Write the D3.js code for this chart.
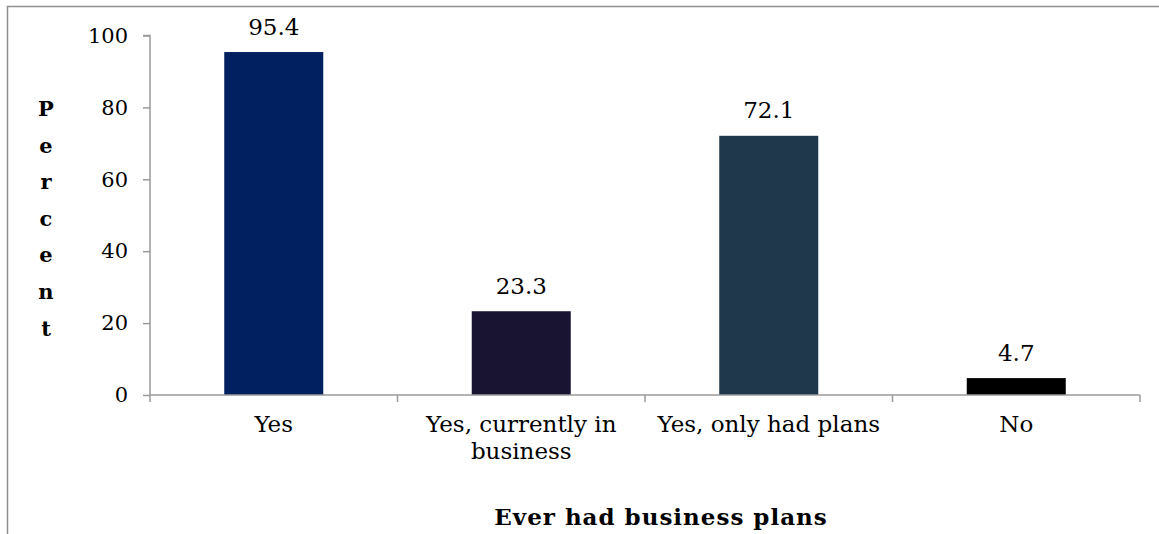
<!DOCTYPE html>
<html>
<head>
<meta charset="utf-8">
<script src="https://cdn.jsdelivr.net/npm/d3@7"></script>
<style>
  html, body { margin: 0; padding: 0; background: #fff; }
  svg { display: block; }
  text { font-family: "DejaVu Serif", "Liberation Serif", serif; fill: #000; }
</style>
</head>
<body>
<svg id="chart" width="1159" height="534"></svg>
<script>
// Ever had business plans — share of respondents (%)
const categories = ["Yes", "Yes, currently in business", "Yes, only had plans", "No"];
const categoryLines = [["Yes"], ["Yes, currently in", "business"], ["Yes, only had plans"], ["No"]];
const values = [95.4, 23.3, 72.1, 4.7];
const barColors = ["#002060", "#1a1433", "#1f384c", "#000000"];
const yTicks = [0, 20, 40, 60, 80, 100];
const yLabel = "Percent";
const xTitle = "Ever had business plans";

const svg = d3.select("#chart");
const W = 1159, H = 534;
const plot = { left: 150, right: 1140, top: 35.5, bottom: 395 };
const axisColor = "#9a9a9a";

// chart-area frame (left and top edges visible)
svg.append("path")
  .attr("d", `M7.5,${H} V6.5 H${W}`)
  .attr("fill", "none")
  .attr("stroke", "#8f8f8f")
  .attr("stroke-width", 1.5);

const x = d3.scaleBand()
  .domain(categories)
  .range([plot.left, plot.right])
  .paddingInner(0.6)
  .paddingOuter(0.3);

const y = d3.scaleLinear()
  .domain([0, 100])
  .range([plot.bottom, plot.top]);

// bars
svg.append("g").selectAll("rect")
  .data(categories)
  .join("rect")
  .attr("x", d => x(d))
  .attr("width", x.bandwidth())
  .attr("y", (d, i) => y(values[i]))
  .attr("height", (d, i) => y(0) - y(values[i]))
  .attr("fill", (d, i) => barColors[i]);

// y axis
const yAxis = svg.append("g")
  .attr("transform", `translate(${plot.left},0)`)
  .call(d3.axisLeft(y).tickValues(yTicks).tickSize(7).tickPadding(15).tickFormat(d3.format("d")));
yAxis.select(".domain").attr("stroke", axisColor).attr("stroke-width", 1.5)
  .attr("d", `M-7,${plot.top}H0V${plot.bottom}`);
yAxis.selectAll(".tick line").attr("stroke", axisColor).attr("stroke-width", 1.5);
yAxis.selectAll(".tick text").attr("font-size", 21).attr("font-family", "DejaVu Serif");

// x axis: baseline with tick marks at category boundaries
const step = x.step();
const boundaries = d3.range(categories.length + 1).map(i => plot.left + i * step);
const xAxis = svg.append("g");
xAxis.append("line")
  .attr("x1", plot.left).attr("x2", plot.right)
  .attr("y1", y(0)).attr("y2", y(0))
  .attr("stroke", axisColor).attr("stroke-width", 1.5);
xAxis.selectAll(".bt")
  .data(boundaries)
  .join("line")
  .attr("class", "bt")
  .attr("x1", d => d).attr("x2", d => d)
  .attr("y1", y(0)).attr("y2", y(0) + 7)
  .attr("stroke", axisColor).attr("stroke-width", 1.5);

// category labels
const catG = svg.append("g");
categories.forEach((c, i) => {
  const t = catG.append("text")
    .attr("x", x(c) + x.bandwidth() / 2)
    .attr("y", y(0) + 37)
    .attr("text-anchor", "middle")
    .attr("font-size", 23);
  categoryLines[i].forEach((ln, j) => {
    t.append("tspan")
      .attr("x", x(c) + x.bandwidth() / 2)
      .attr("dy", j === 0 ? 0 : 27)
      .text(ln);
  });
});

// value labels
svg.append("g").selectAll("text")
  .data(categories)
  .join("text")
  .attr("x", d => x(d) + x.bandwidth() / 2)
  .attr("y", (d, i) => y(values[i]) - 17.5)
  .attr("text-anchor", "middle")
  .attr("font-size", 23)
  .text((d, i) => values[i].toFixed(1));

// y-axis title, one letter per line
const yl = svg.append("g");
yLabel.split("").forEach((ch, i) => {
  yl.append("text")
    .attr("x", 46)
    .attr("y", 116 + i * 36.6)
    .attr("text-anchor", "middle")
    .attr("font-size", 21)
    .attr("font-weight", "bold")
    .text(ch);
});

// x-axis title
svg.append("text")
  .attr("x", 661)
  .attr("y", 525)
  .attr("text-anchor", "middle")
  .attr("font-size", 23)
  .attr("font-weight", "bold")
  .attr("letter-spacing", 1)
  .text(xTitle);
</script>
</body>
</html>
